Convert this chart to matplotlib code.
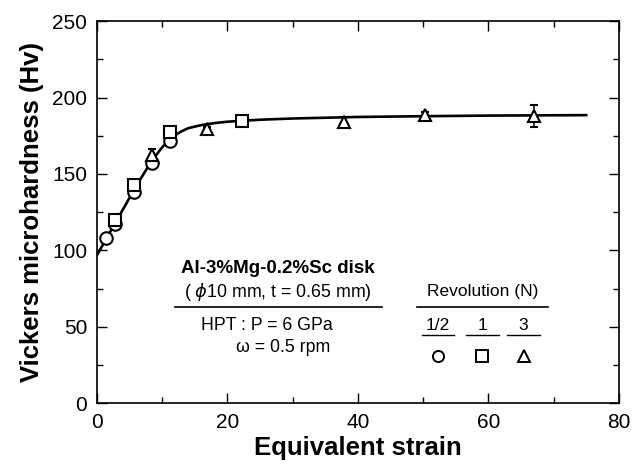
import matplotlib.pyplot as plt
from matplotlib.ticker import MultipleLocator

plt.rcParams['font.family'] = ['Liberation Sans', 'DejaVu Sans']

# data
strain_half = [1.45, 2.8, 5.6, 8.4, 11.2]
hv_half = [108, 117, 138, 157, 171.5]
err_half = [1.5, 2, 4, 3, 2]

strain_one = [2.8, 5.6, 11.2, 22.3]
hv_one = [120, 143, 177.5, 184.5]
err_one = [2, 3, 2, 1.5]

strain_three = [8.4, 16.8, 37.8, 50.3, 67]
hv_three = [162.5, 179.5, 184, 188.5, 188]
err_three = [4, 1.5, 3, 2, 7]

# fitted curve
curve_x = [0, 1, 2, 3, 4, 5, 6, 7, 8, 9, 10, 11, 12, 13, 14, 16, 18, 20, 25, 30, 40, 50, 60, 75]
curve_y = [97, 104.5, 112, 119.5, 127, 134.5, 142, 149, 156, 162, 167.5, 172, 175.5, 178,
           180, 182, 183.3, 184.2, 185.5, 186.3, 187.3, 187.8, 188.2, 188.5]

fig, ax = plt.subplots(figsize=(6.34, 4.69), dpi=100)
fig.subplots_adjust(left=0.153, right=0.976, top=0.955, bottom=0.14)

ax.plot(curve_x, curve_y, color='black', lw=1.9, zorder=2)
mk = dict(color='black', mfc='white', mec='black', mew=1.5, ms=9, ls='none',
          elinewidth=1.1, capsize=3, zorder=3)
ax.errorbar(strain_half, hv_half, yerr=err_half, marker='o', **mk)
ax.errorbar(strain_one, hv_one, yerr=err_one, marker='s', **mk)
ax.errorbar(strain_three, hv_three, yerr=err_three, marker='^', **mk)

ax.set_xlim(0, 80)
ax.set_ylim(0, 250)
ax.xaxis.set_major_locator(MultipleLocator(20))
ax.xaxis.set_minor_locator(MultipleLocator(10))
ax.yaxis.set_major_locator(MultipleLocator(50))
ax.yaxis.set_minor_locator(MultipleLocator(25))
ax.tick_params(which='both', direction='in', top=True, right=True, labelsize=15, width=1)
ax.tick_params(which='major', length=7, pad=7)
ax.tick_params(which='minor', length=4)
for s in ax.spines.values():
    s.set_linewidth(1.2)

ax.set_xlabel('Equivalent strain', fontsize=18.5, fontweight='bold', labelpad=3)
ax.set_ylabel('Vickers microhardness (Hv)', fontsize=18.5, fontweight='bold', labelpad=6)

# sample box text
ax.text(27.7, 88, 'Al-3%Mg-0.2%Sc disk', fontsize=13.5, fontweight='bold', ha='center', va='center')
ax.text(27.7, 73, '( $\\phi$10 mm, t = 0.65 mm)', fontsize=12.8, ha='center', va='center')
ax.plot([12, 43.7], [63, 63], color='black', lw=1.2)
ax.text(16, 51, 'HPT : P = 6 GPa', fontsize=12.8, ha='left', va='center')
ax.text(21.3, 36.5, '\u03c9 = 0.5 rpm', fontsize=12.8, ha='left', va='center')

ax.text(59.1, 73, 'Revolution (N)', fontsize=12.5, ha='center', va='center')
ax.plot([49, 69.1], [63, 63], color='black', lw=1.2)
for x0, lab, m in [(52.3, '1/2', 'o'), (59.1, '1', 's'), (65.4, '3', '^')]:
    ax.text(x0, 51, lab, fontsize=12.5, ha='center', va='center')
    ax.plot([x0 - 2.5, x0 + 2.5], [44.5, 44.5], color='black', lw=1.0)
    ax.plot([x0], [31], marker=m, mfc='white', mec='black', mew=1.4, ms=8, ls='none')

fig.savefig('out.png', dpi=100)
